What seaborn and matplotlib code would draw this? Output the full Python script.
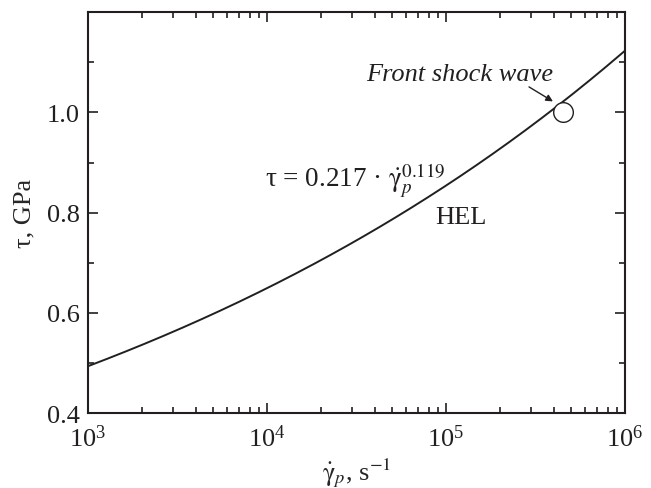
import numpy as np
import pandas as pd
import matplotlib
matplotlib.use("Agg")
import matplotlib.pyplot as plt
import seaborn as sns
from matplotlib.ticker import LogLocator, MultipleLocator

# Power-law fit of shear stress vs. plastic strain rate
coef = 0.217
expo = 0.119
rate_min, rate_max = 1e3, 1e6

# Front shock wave point
shock_rate = [4.5e5]
shock_tau = [1.0]

rates = np.logspace(np.log10(rate_min), np.log10(rate_max), 200)
fit = pd.DataFrame({"rate": rates, "tau": coef * rates ** expo})
pt = pd.DataFrame({"rate": shock_rate, "tau": shock_tau})

sns.set_theme(style="ticks")
plt.rcParams["font.family"] = ["Liberation Serif", "DejaVu Serif"]
plt.rcParams["mathtext.fontset"] = "stix"
plt.rcParams["axes.linewidth"] = 1.5
plt.rcParams["text.color"] = "#231f20"

fig = plt.figure(figsize=(6.51, 4.89), dpi=100)
ax = fig.add_axes([0.135, 0.153, 0.825, 0.82])

sns.lineplot(data=fit, x="rate", y="tau", ax=ax, color="#231f20", lw=1.4)
sns.scatterplot(data=pt, x="rate", y="tau", ax=ax, s=200, facecolor="white",
                edgecolor="#231f20", linewidth=1.0, zorder=5)

ax.set_xscale("log")
ax.set_xlim(rate_min, rate_max)
ax.set_ylim(0.4, 1.2)
ax.yaxis.set_minor_locator(MultipleLocator(0.1))
ax.xaxis.set_major_locator(LogLocator(base=10))
ax.xaxis.set_minor_locator(LogLocator(base=10, subs=np.arange(2, 10)))
ax.set_yticks([0.4, 0.6, 0.8, 1.0])
ax.set_yticklabels(["0.4", "0.6", "0.8", "1.0"])

for s in ax.spines.values():
    s.set_color("#231f20")
ax.tick_params(which="both", direction="in", top=True, right=True,
               color="#231f20", width=1.2, labelsize=19, labelcolor="#231f20")
ax.tick_params(which="major", length=7, pad=6)
ax.tick_params(which="minor", length=4)
ax.tick_params(axis="x", which="major", pad=8)

ax.set_xlabel(r"$\dot{\mathrm{\gamma}}_p$, s$^{-1}$", fontsize=19, labelpad=3)
ax.set_ylabel("τ, GPa", fontsize=19, labelpad=8)

ax.text(9.7e3, 0.853, r"τ = 0.217 · $\dot{\mathrm{\gamma}}_p^{0.119}$",
        fontsize=19.5, ha="left", va="baseline")
ax.text(8.7e4, 0.780, "HEL", fontsize=19, ha="left", va="baseline")
ax.annotate("", xy=(3.96e5, 1.022), xytext=(2.91e5, 1.051),
            arrowprops=dict(arrowstyle="-|>", color="#231f20", lw=1.0,
                            shrinkA=0, shrinkB=0, mutation_scale=10))
ax.text(1.2e5, 1.065, "Front shock wave", fontsize=19, style="italic",
        ha="center", va="baseline")

fig.savefig("out.png", dpi=100)
